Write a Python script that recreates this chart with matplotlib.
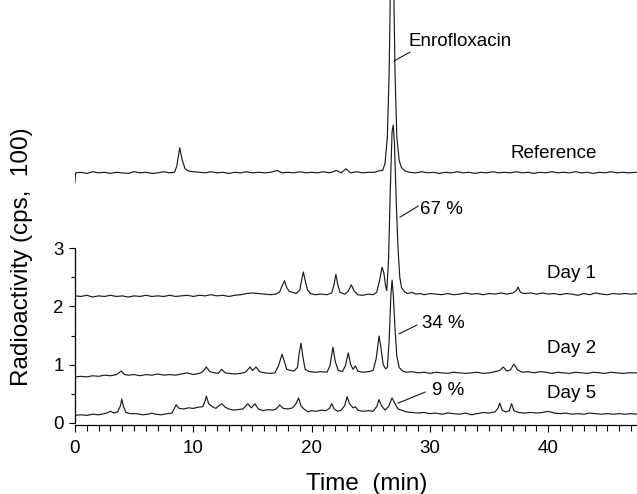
import matplotlib
matplotlib.use("Agg")
import matplotlib.pyplot as plt
from matplotlib.ticker import MultipleLocator, FixedLocator

plt.rcParams['font.family'] = ['Liberation Sans', 'DejaVu Sans']

# ---- data: (time [min], radioactivity [cps x 100]) ----
reference = [
    (0, 4.13), (0.05, 4.29), (0.5, 4.30), (1.0, 4.28), (1.5, 4.31), (2.0, 4.29), (2.5, 4.30),
    (3.0, 4.28), (3.5, 4.30), (4.0, 4.29), (4.5, 4.28), (5.0, 4.31), (5.5, 4.29), (6.0, 4.30),
    (6.5, 4.28), (7.0, 4.29), (7.5, 4.31), (8.0, 4.29), (8.4, 4.30), (8.6, 4.40), (8.85, 4.72),
    (9.05, 4.52), (9.3, 4.36), (9.6, 4.32), (10.0, 4.31), (10.5, 4.30), (11.0, 4.29), (11.5, 4.31),
    (12.0, 4.29), (12.5, 4.30), (13.0, 4.28), (13.5, 4.30), (14.0, 4.29), (14.5, 4.31), (15.0, 4.29),
    (15.5, 4.30), (16.0, 4.29), (16.5, 4.30), (17.1, 4.33), (17.5, 4.29), (18.0, 4.30), (18.5, 4.29),
    (19.0, 4.31), (19.5, 4.29), (20.0, 4.30), (20.5, 4.29), (21.0, 4.31), (21.5, 4.29), (22.1, 4.33),
    (22.5, 4.29), (22.9, 4.36), (23.3, 4.29), (23.8, 4.31), (24.3, 4.29), (24.8, 4.30), (25.3, 4.30),
    (25.8, 4.33), (26.0, 4.33), (26.2, 4.45), (26.4, 4.9), (26.55, 6.0), (26.7, 8.0), (26.8, 10.0),
    (26.9, 8.0), (27.05, 6.0), (27.2, 4.9), (27.4, 4.5), (27.6, 4.38), (27.9, 4.32), (28.3, 4.30),
    (28.8, 4.29), (29.3, 4.31), (29.8, 4.29), (30.3, 4.30), (30.8, 4.28), (31.3, 4.30), (31.8, 4.29),
    (32.3, 4.31), (32.8, 4.29), (33.3, 4.30), (33.8, 4.28), (34.3, 4.30), (34.8, 4.29), (35.3, 4.31),
    (35.8, 4.29), (36.3, 4.30), (36.8, 4.29), (37.3, 4.31), (37.8, 4.29), (38.3, 4.30), (38.8, 4.28),
    (39.3, 4.30), (39.8, 4.29), (40.3, 4.31), (40.8, 4.29), (41.3, 4.30), (41.8, 4.29), (42.3, 4.31),
    (42.8, 4.29), (43.3, 4.30), (43.8, 4.28), (44.3, 4.30), (44.8, 4.29), (45.3, 4.31), (45.8, 4.29),
    (46.3, 4.30), (46.8, 4.29), (47.5, 4.30),
]

day1 = [
    (0, 2.18), (0.5, 2.17), (1.0, 2.19), (1.5, 2.16), (2.0, 2.18), (2.5, 2.17), (3.0, 2.19),
    (3.5, 2.17), (4.0, 2.18), (4.5, 2.16), (5.0, 2.18), (5.5, 2.17), (6.0, 2.19), (6.5, 2.17),
    (7.0, 2.18), (7.5, 2.17), (8.0, 2.19), (8.5, 2.17), (9.0, 2.18), (9.5, 2.19), (10.0, 2.17),
    (10.5, 2.19), (11.0, 2.18), (11.5, 2.20), (12.0, 2.18), (12.5, 2.19), (13.0, 2.17), (13.5, 2.19),
    (14.0, 2.20), (14.5, 2.22), (15.0, 2.23), (15.5, 2.22), (16.0, 2.21), (16.5, 2.20), (17.0, 2.21),
    (17.3, 2.25), (17.5, 2.35), (17.7, 2.44), (17.9, 2.32), (18.1, 2.26), (18.4, 2.24), (18.7, 2.22),
    (19.0, 2.28), (19.15, 2.45), (19.3, 2.59), (19.45, 2.45), (19.65, 2.28), (19.9, 2.22), (20.3, 2.20),
    (20.8, 2.21), (21.3, 2.20), (21.7, 2.23), (21.9, 2.38), (22.05, 2.55), (22.2, 2.38), (22.4, 2.24),
    (22.8, 2.21), (23.1, 2.26), (23.35, 2.37), (23.6, 2.26), (23.9, 2.20), (24.3, 2.19), (24.8, 2.21),
    (25.2, 2.20), (25.5, 2.24), (25.75, 2.45), (25.95, 2.67), (26.1, 2.58), (26.25, 2.35), (26.35, 2.27),
    (26.5, 2.8), (26.65, 4.0), (26.8, 5.0), (26.9, 5.11), (27.0, 4.8), (27.15, 3.8), (27.3, 3.0),
    (27.45, 2.5), (27.6, 2.32), (27.85, 2.25), (28.1, 2.22), (28.5, 2.24), (28.8, 2.21), (29.2, 2.22),
    (29.5, 2.20), (30.0, 2.22), (30.5, 2.21), (31.0, 2.20), (31.5, 2.22), (32.0, 2.20), (32.5, 2.21),
    (33.0, 2.23), (33.5, 2.21), (34.0, 2.22), (34.5, 2.20), (35.0, 2.22), (35.5, 2.21), (36.0, 2.23),
    (36.5, 2.21), (37.0, 2.23), (37.3, 2.27), (37.45, 2.33), (37.65, 2.24), (38.0, 2.22), (38.5, 2.23),
    (39.0, 2.21), (39.5, 2.23), (40.0, 2.21), (40.5, 2.22), (41.0, 2.20), (41.5, 2.22), (42.0, 2.21),
    (42.5, 2.19), (43.0, 2.22), (43.5, 2.20), (44.0, 2.23), (44.5, 2.21), (45.0, 2.20), (45.5, 2.22),
    (46.0, 2.21), (46.5, 2.22), (47.0, 2.21), (47.5, 2.22),
]

day2 = [
    (0, 0.79), (0.5, 0.80), (1.0, 0.79), (1.5, 0.81), (2.0, 0.80), (2.5, 0.82), (3.0, 0.81),
    (3.5, 0.83), (3.9, 0.89), (4.2, 0.83), (4.5, 0.82), (5.0, 0.83), (5.5, 0.81), (6.0, 0.83),
    (6.5, 0.82), (7.0, 0.84), (7.5, 0.82), (8.0, 0.83), (8.5, 0.82), (9.0, 0.84), (9.5, 0.86),
    (10.0, 0.83), (10.5, 0.85), (10.8, 0.88), (11.1, 0.96), (11.4, 0.88), (11.8, 0.86), (12.1, 0.85),
    (12.4, 0.92), (12.7, 0.86), (13.0, 0.85), (13.5, 0.84), (14.0, 0.85), (14.4, 0.87), (14.8, 0.96),
    (15.0, 0.90), (15.3, 0.96), (15.6, 0.88), (16.0, 0.86), (16.5, 0.85), (16.9, 0.86), (17.2, 0.98),
    (17.5, 1.18), (17.7, 1.05), (17.9, 0.92), (18.2, 0.90), (18.5, 0.89), (18.8, 0.95), (18.95, 1.20),
    (19.1, 1.37), (19.25, 1.15), (19.45, 0.92), (19.8, 0.88), (20.3, 0.87), (20.8, 0.88), (21.3, 0.87),
    (21.55, 0.98), (21.8, 1.30), (22.0, 1.05), (22.25, 0.90), (22.6, 0.88), (22.85, 0.98), (23.1, 1.20),
    (23.3, 1.00), (23.5, 0.92), (23.7, 0.98), (23.9, 0.89), (24.3, 0.87), (24.8, 0.88), (25.2, 0.90),
    (25.45, 1.10), (25.7, 1.49), (25.85, 1.30), (26.05, 1.00), (26.25, 0.93), (26.4, 0.95), (26.55, 1.40),
    (26.7, 2.20), (26.8, 2.45), (26.9, 2.20), (27.05, 1.60), (27.2, 1.15), (27.4, 0.95), (27.7, 0.89),
    (28.0, 0.87), (28.5, 0.88), (29.0, 0.86), (29.5, 0.87), (30.0, 0.85), (30.5, 0.87), (31.0, 0.86),
    (31.5, 0.85), (32.0, 0.87), (32.5, 0.86), (33.0, 0.85), (33.5, 0.86), (34.0, 0.87), (34.5, 0.85),
    (35.0, 0.86), (35.5, 0.88), (35.9, 0.90), (36.2, 0.96), (36.5, 0.89), (36.8, 0.91), (37.1, 1.01),
    (37.4, 0.91), (37.8, 0.87), (38.3, 0.88), (38.8, 0.86), (39.3, 0.88), (39.8, 0.87), (40.3, 0.85),
    (40.8, 0.87), (41.3, 0.86), (41.8, 0.85), (42.3, 0.87), (42.8, 0.86), (43.3, 0.85), (43.8, 0.87),
    (44.3, 0.86), (44.8, 0.85), (45.3, 0.87), (45.8, 0.86), (46.3, 0.85), (46.8, 0.86), (47.5, 0.86),
]

day5 = [
    (0, 0.13), (0.5, 0.14), (1.0, 0.13), (1.5, 0.15), (2.0, 0.14), (2.5, 0.16), (2.8, 0.18),
    (3.0, 0.20), (3.3, 0.17), (3.6, 0.19), (3.85, 0.30), (3.95, 0.41), (4.1, 0.28), (4.3, 0.18),
    (4.7, 0.16), (5.2, 0.16), (5.7, 0.14), (6.2, 0.15), (6.5, 0.17), (6.8, 0.15), (7.3, 0.14),
    (7.8, 0.16), (8.2, 0.17), (8.4, 0.25), (8.55, 0.31), (8.8, 0.25), (9.2, 0.24), (9.6, 0.26),
    (10.0, 0.25), (10.4, 0.27), (10.8, 0.28), (11.0, 0.38), (11.1, 0.46), (11.3, 0.33), (11.6, 0.28),
    (11.9, 0.25), (12.2, 0.30), (12.4, 0.33), (12.7, 0.27), (13.0, 0.24), (13.4, 0.22), (13.8, 0.23),
    (14.2, 0.24), (14.6, 0.33), (14.9, 0.26), (15.2, 0.33), (15.5, 0.24), (15.9, 0.21), (16.3, 0.23),
    (16.7, 0.22), (17.0, 0.24), (17.3, 0.31), (17.6, 0.25), (18.0, 0.24), (18.4, 0.26), (18.7, 0.34),
    (18.9, 0.43), (19.1, 0.29), (19.4, 0.23), (19.7, 0.19), (20.0, 0.21), (20.4, 0.20), (20.8, 0.22),
    (21.2, 0.21), (21.5, 0.25), (21.7, 0.33), (21.9, 0.24), (22.2, 0.20), (22.5, 0.22), (22.8, 0.30),
    (23.0, 0.45), (23.2, 0.33), (23.5, 0.26), (23.7, 0.28), (23.9, 0.22), (24.3, 0.20), (24.8, 0.21),
    (25.2, 0.20), (25.5, 0.28), (25.7, 0.40), (25.9, 0.30), (26.2, 0.22), (26.5, 0.28), (26.8, 0.43),
    (27.0, 0.35), (27.3, 0.24), (27.6, 0.22), (28.0, 0.19), (28.5, 0.18), (29.0, 0.17), (29.5, 0.18),
    (30.0, 0.16), (30.5, 0.17), (31.0, 0.15), (31.5, 0.17), (32.0, 0.16), (32.5, 0.15), (33.0, 0.17),
    (33.5, 0.14), (34.0, 0.16), (34.5, 0.18), (35.0, 0.17), (35.5, 0.19), (35.75, 0.25), (35.9, 0.34),
    (36.1, 0.22), (36.4, 0.19), (36.7, 0.21), (36.9, 0.33), (37.1, 0.21), (37.5, 0.18), (38.0, 0.17),
    (38.5, 0.18), (39.0, 0.17), (39.5, 0.18), (40.0, 0.20), (40.5, 0.17), (41.0, 0.16), (41.5, 0.17),
    (42.0, 0.15), (42.5, 0.16), (43.0, 0.15), (43.5, 0.17), (44.0, 0.16), (44.5, 0.15), (45.0, 0.16),
    (45.5, 0.15), (46.0, 0.16), (46.5, 0.15), (47.0, 0.16), (47.5, 0.15),
]

trace_labels = ["Reference", "Day 1", "Day 2", "Day 5"]
percent_labels = ["67 %", "34 %", "9 %"]
x_ticks = [0, 10, 20, 30, 40]
y_ticks = [0, 1, 2, 3]
y_minor_ticks = [0.5, 1.5, 2.5]

# ---- figure ----
W, H = 637, 494
fig = plt.figure(figsize=(W / 100, H / 100), dpi=100)
ax = fig.add_axes([75 / W, 69 / H, (W - 75) / W, 425 / H])

line_kw = dict(color="#1a1a1a", lw=0.85)
for tr in (reference, day1, day2, day5):
    t, v = zip(*tr)
    ax.plot(t, v, **line_kw)

ax.set_xlim(0, 47.5)
ax.set_ylim(-0.035, 7.255)

for s in ("top", "right"):
    ax.spines[s].set_visible(False)
ax.spines["left"].set_bounds(0, 3)
ax.spines["left"].set_linewidth(0.9)
ax.spines["bottom"].set_linewidth(0.9)

ax.set_xticks(x_ticks)
ax.set_yticks(y_ticks)
ax.xaxis.set_minor_locator(MultipleLocator(1))
ax.yaxis.set_minor_locator(FixedLocator(y_minor_ticks))
ax.tick_params(axis="both", which="both", direction="out", width=0.8, labelsize=13.5)
ax.tick_params(axis="x", which="major", length=5, pad=6)
ax.tick_params(axis="x", which="minor", length=4)
ax.tick_params(axis="y", which="major", length=4, pad=4)
ax.tick_params(axis="y", which="minor", length=3)

# text annotations
fs = 13.5
ax.text(28.15, 6.54, "Enrofloxacin", fontsize=fs, ha="left", va="center")
ax.plot([28.3, 26.97], [6.36, 6.21], color="#1a1a1a", lw=0.8)
ax.text(36.8, 4.63, trace_labels[0], fontsize=fs, ha="left", va="center")
ax.text(39.9, 2.57, trace_labels[1], fontsize=fs, ha="left", va="center")
ax.text(39.9, 1.27, trace_labels[2], fontsize=fs, ha="left", va="center")
ax.text(39.9, 0.51, trace_labels[3], fontsize=fs, ha="left", va="center")

ax.text(29.2, 3.67, percent_labels[0], fontsize=fs, ha="left", va="center")
ax.plot([29.0, 27.47], [3.72, 3.53], color="#1a1a1a", lw=0.8)
ax.text(29.3, 1.70, percent_labels[1], fontsize=fs, ha="left", va="center")
ax.plot([28.9, 27.4], [1.68, 1.53], color="#1a1a1a", lw=0.8)
ax.text(30.2, 0.55, percent_labels[2], fontsize=fs, ha="left", va="center")
ax.plot([29.6, 27.3], [0.53, 0.34], color="#1a1a1a", lw=0.8)

# axis labels
fig.text(367 / W, 1 - 490 / H, "Time  (min)", fontsize=17.5, ha="center", va="baseline")
fig.text(22 / W, 1 - 257 / H, "Radioactivity (cps,  100)", fontsize=17.5,
         ha="center", va="center", rotation=90)

fig.savefig("out.png", dpi=100)
